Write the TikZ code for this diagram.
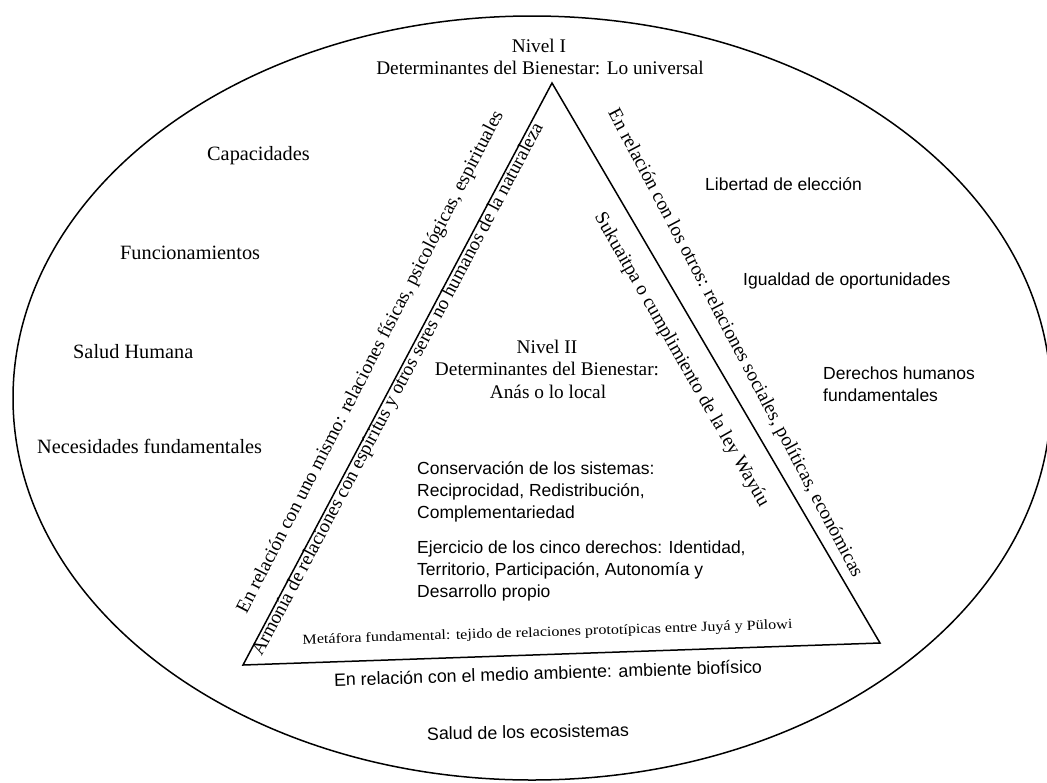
\documentclass[tikz,border=0pt]{standalone}
\usepackage{fontspec}
\usepackage{graphicx}
\setmainfont{Liberation Serif}
\newfontfamily\sansf{Liberation Sans}
\tikzset{
  frame/.style={line width=1.5pt, black},
  serif/.style={font=\fontsize{19.3}{22.5}\selectfont, inner sep=0pt},
  item/.style={font=\fontsize{20.3}{24}\selectfont, inner sep=0pt, anchor=base west},
  sansitem/.style={font=\sansf\fontsize{17.5}{22}\selectfont, inner sep=0pt, anchor=base west},
  edgetext/.style={font=\fontsize{19.4}{22}\selectfont, inner sep=0pt, text height=0.7em, text depth=0.22em},
  bottomtext/.style={font=\sansf\fontsize{17.8}{22}\selectfont, inner sep=0pt},
  metatext/.style={font=\fontsize{14}{16}\selectfont, inner sep=0pt},
}
\begin{document}
\begin{tikzpicture}[x=1pt,y=-1pt]
\useasboundingbox (0,0) rectangle (1047,782);
% outer ellipse
\draw[frame] (532,398) ellipse [x radius=519, y radius=382];
% triangle
\coordinate (A) at (552,83);
\coordinate (B) at (243,665);
\coordinate (C) at (880,643);
\draw[frame, line join=miter] (A) -- (B) -- (C) -- cycle;

% top title
\node[serif, anchor=base] (n1) at (539,52) {Nivel I};
\node[serif, anchor=base] (d1) at (540,74) {Determinantes del Bienestar: Lo universal};

% left items
\node[item] (cap) at (207,160) {Capacidades};
\node[item] (fun) at (120,259) {Funcionamientos};
\node[item] (sal) at (73,358) {Salud Humana};
\node[item] (nec) at (37,453) {Necesidades fundamentales};

% right items
\node[sansitem] (lib) at (705,190) {Libertad de elección};
\node[sansitem] (igu) at (743,285) {Igualdad de oportunidades};
\node[sansitem] (der1) at (823,379) {Derechos humanos};
\node[sansitem] (der2) at (823,401) {fundamentales};

% Nivel II block
\node[serif, anchor=base] (n2a) at (547,353) {Nivel II};
\node[serif, anchor=base] (n2b) at (547,375) {Determinantes del Bienestar:};
\node[serif, anchor=base] (n2c) at (548,398) {Anás o lo local};

% inner blocks
\node[sansitem] (c1) at (417,474) {Conservación de los sistemas:};
\node[sansitem] (c2) at (417,496) {Reciprocidad, Redistribución,};
\node[sansitem] (c3) at (417,518) {Complementariedad};
\node[sansitem] (e1) at (417,553) {Ejercicio de los cinco derechos: Identidad,};
\node[sansitem] (e2) at (417,575) {Territorio, Participación, Autonomía y};
\node[sansitem] (e3) at (417,597) {Desarrollo propio};

% edge texts
\node[edgetext, rotate=62.8, anchor=south] (lo) at (377.2,365.4)
  {En relación con uno mismo: relaciones físicas, psicológicas, espirituales};
\node[edgetext, font=\fontsize{19.2}{22}\selectfont, rotate=62, anchor=north] (li) at (396.1,388.4)
  {Armonía de relaciones con espíritus y otros seres no humanos de la naturaleza};
\node[edgetext, rotate=-62.2, anchor=south] (ro) at (728.5,346.7)
  {En relación con los otros: relaciones sociales, políticas, económicas};
\node[edgetext, rotate=-60.3, anchor=north] (ri) at (683.4,358.7)
  {Sukuaitpa o cumplimiento de la ley Wayúu};

% bottom texts
\node[metatext, rotate=1.8] (meta) at (547.5,633)
  {\scalebox{1.15}[1]{Metáfora fundamental: tejido de relaciones prototípicas entre Juyá y Pülowi}};
\node[bottomtext, rotate=1.8] (amb) at (548,673) {En relación con el medio ambiente: ambiente biofísico};
\node[bottomtext, rotate=1] (eco) at (528,732) {Salud de los ecosistemas};
\end{tikzpicture}
\end{document}
